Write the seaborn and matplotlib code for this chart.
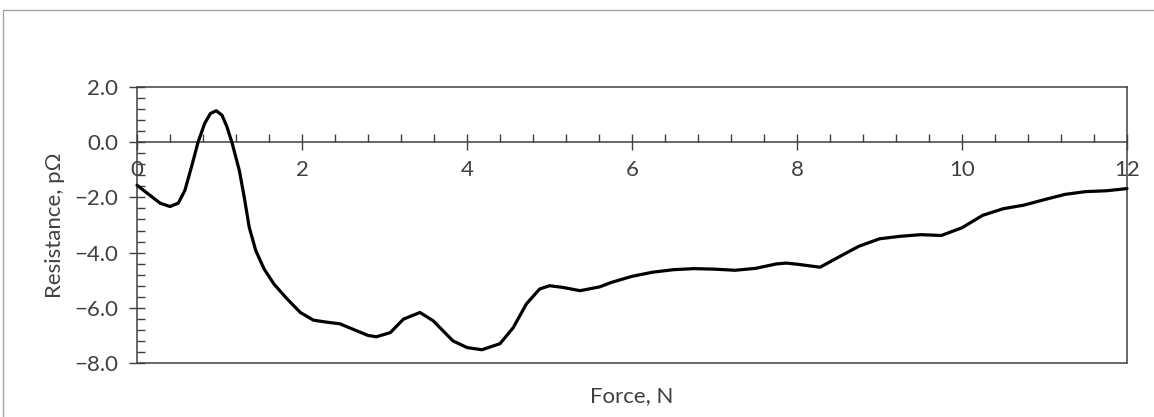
import matplotlib
matplotlib.use("Agg")
import matplotlib.pyplot as plt
from matplotlib.patches import Rectangle
from matplotlib.ticker import MultipleLocator, FuncFormatter
import pandas as pd
import seaborn as sns

# Measured resistance change versus applied force
force_n = [0.0, 0.16, 0.28, 0.40, 0.50, 0.58, 0.66, 0.74, 0.82, 0.89, 0.96,
           1.03, 1.09, 1.15, 1.24, 1.30, 1.36, 1.44, 1.54, 1.66, 1.82, 1.98,
           2.14, 2.3, 2.46, 2.62, 2.8, 2.9, 3.07, 3.23, 3.43, 3.59, 3.83, 4.0,
           4.18, 4.4, 4.56, 4.72, 4.88, 5.0, 5.16, 5.37, 5.61, 5.75, 6.0, 6.25,
           6.5, 6.75, 7.0, 7.25, 7.5, 7.75, 7.87, 8.0, 8.28, 8.5, 8.75, 9.0,
           9.25, 9.5, 9.75, 10.0, 10.25, 10.5, 10.75, 11.0, 11.25, 11.5, 11.75,
           12.0]
resistance_pohm = [-1.56, -1.93, -2.21, -2.33, -2.21, -1.75, -0.9, 0.0, 0.68,
                   1.04, 1.14, 0.98, 0.56, 0.0, -1.02, -1.99, -3.08, -3.93,
                   -4.59, -5.14, -5.68, -6.17, -6.45, -6.52, -6.58, -6.78,
                   -7.0, -7.05, -6.9, -6.41, -6.17, -6.47, -7.2, -7.44, -7.52,
                   -7.3, -6.72, -5.86, -5.32, -5.2, -5.26, -5.38, -5.24, -5.08,
                   -4.86, -4.71, -4.62, -4.58, -4.6, -4.64, -4.57, -4.41,
                   -4.38, -4.42, -4.53, -4.17, -3.77, -3.5, -3.41, -3.35,
                   -3.38, -3.1, -2.65, -2.41, -2.28, -2.08, -1.89, -1.79,
                   -1.76, -1.68]

x_major_ticks = [0, 2, 4, 6, 8, 10, 12]
y_major_ticks = [-8.0, -6.0, -4.0, -2.0, 0.0, 2.0]

df = pd.DataFrame({"Force": force_n, "Resistance": resistance_pohm})

sns.set_style("white")
plt.rcParams["font.family"] = ["Lato", "DejaVu Sans"]

text_col = "#404040"
axis_col = "#404040"
fs = 16

fig = plt.figure(figsize=(11.54, 4.17), dpi=100)
ax = fig.add_axes([137 / 1154, 1 - 363 / 417, 990 / 1154, 276 / 417])

sns.lineplot(data=df, x="Force", y="Resistance", ax=ax, color="black",
             linewidth=2.3, solid_joinstyle="round", solid_capstyle="round",
             clip_on=False, zorder=3)

ax.set_xlim(0, 12)
ax.set_ylim(-8, 2)

# Horizontal axis crosses at zero; frame closes the plot area
for side in ["top", "right", "left", "bottom"]:
    ax.spines[side].set_visible(True)
    ax.spines[side].set_color(axis_col)
    ax.spines[side].set_linewidth(1.1)
ax.spines["bottom"].set_position(("data", 0))
ax.axhline(-8, color=axis_col, linewidth=1.1, clip_on=False, zorder=2.5)

ax.set_xticks(x_major_ticks)
ax.set_yticks(y_major_ticks)
ax.xaxis.set_minor_locator(MultipleLocator(0.4))
ax.yaxis.set_minor_locator(MultipleLocator(0.4))
ax.xaxis.set_major_formatter(FuncFormatter(lambda v, p: f"{v:.0f}"))
ax.yaxis.set_major_formatter(
    FuncFormatter(lambda v, p: f"{v:.1f}".replace("-", "\u2212")))

ax.tick_params(axis="x", which="major", direction="inout", length=11.5,
               width=1.0, color=axis_col, labelsize=fs, labelcolor=text_col,
               pad=7, bottom=True, top=False)
ax.tick_params(axis="x", which="minor", direction="in", length=5.8,
               width=1.0, color=axis_col, bottom=True, top=False)
ax.tick_params(axis="y", which="major", direction="inout", length=11.5,
               width=1.0, color=axis_col, labelsize=fs, labelcolor=text_col,
               pad=8, left=True, right=False)
ax.tick_params(axis="y", which="minor", direction="in", length=5.8,
               width=1.0, color=axis_col, left=True, right=False)

ax.set_xlabel("")
ax.set_ylabel("")
fig.text(55 / 1154, 1 - 225 / 417, "Resistance, pΩ", ha="center",
         va="center", rotation=90, fontsize=fs, color=text_col)
fig.text((137 + 1127) / 2 / 1154, 1 - 396 / 417, "Force, N", ha="center",
         va="center", fontsize=fs, color=text_col)

# Chart area border
fig.patches.append(Rectangle((3 / 1154, -0.1), 1.2, 1 - 10 / 417 + 0.1,
                             transform=fig.transFigure, fill=False,
                             edgecolor="#a6a6a6", linewidth=1.0))

fig.savefig("out.png", dpi=100)
